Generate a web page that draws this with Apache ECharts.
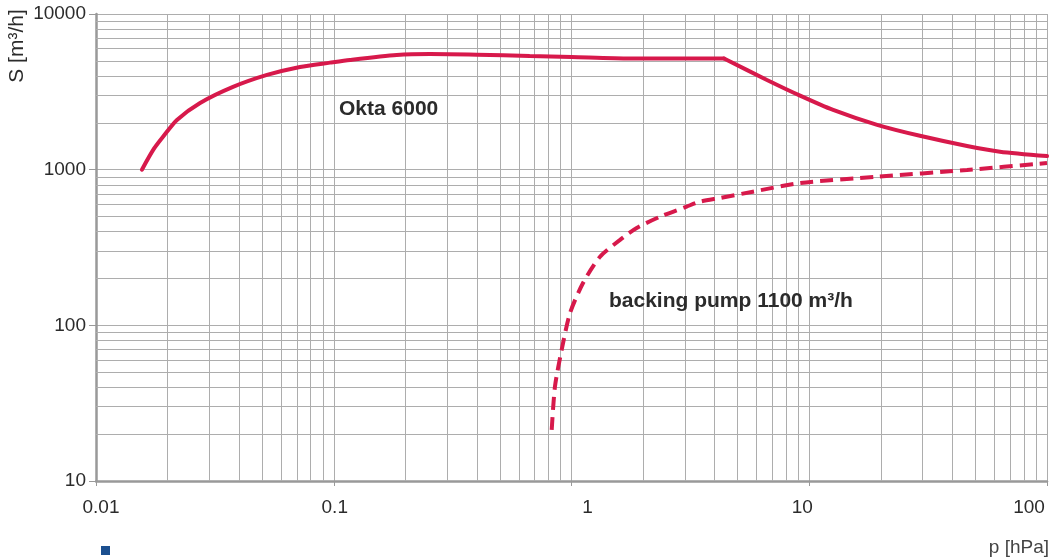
<!DOCTYPE html>
<html>
<head>
<meta charset="utf-8">
<script src="https://cdn.jsdelivr.net/npm/echarts@6/dist/echarts.min.js"></script>
<style>
html,body{margin:0;padding:0;background:#fff;}
#chart{width:1052px;height:560px;}
</style>
</head>
<body>
<div id="chart"></div>
<script>
// ---- data ----
var oktaRise = [
  [0.0156, 1000], [0.0174, 1340], [0.0191, 1620], [0.0219, 2085], [0.0274, 2680],
  [0.0377, 3400], [0.0524, 4060], [0.0721, 4570], [0.0964, 4870], [0.117, 5070],
  [0.184, 5450], [0.254, 5530], [0.40, 5480], [0.667, 5380], [1.0, 5300],
  [1.76, 5180], [4.38, 5180]
];
var oktaFall = [
  [4.38, 5180], [6.64, 3770], [9.15, 2990], [12.6, 2420], [19.3, 1940],
  [29.2, 1650], [46.1, 1420], [63.4, 1305], [100, 1224]
];
var backingPump = [
  [0.8255, 21.3], [0.852, 40.4], [0.909, 69.5], [0.986, 120], [1.118, 187],
  [1.318, 276], [1.60, 354], [1.88, 422], [2.36, 499], [3.05, 579],
  [3.47, 623], [4.21, 658], [5.79, 722], [9.15, 821], [19.3, 901],
  [46.1, 995], [100, 1104]
];
var xTickValues = [0.01, 0.1, 1, 10, 100];
var xTickLabels = ['0.01', '0.1', '1', '10', '100'];
var yTickValues = [10, 100, 1000, 10000];
var yTickLabels = ['10', '100', '1000', '10000'];
var xMinorGrid = [0.02, 0.03, 0.04, 0.05, 0.06, 0.07, 0.08, 0.09,
                  0.2, 0.3, 0.4, 0.5, 0.6, 0.7, 0.8, 0.9,
                  2, 3, 4, 5, 6, 7, 8, 9,
                  20, 30, 40, 50, 60, 70, 80, 90];
var yMinorGrid = [20, 30, 40, 50, 60, 70, 80, 90,
                  200, 300, 400, 500, 600, 700, 800, 900,
                  2000, 3000, 4000, 5000, 6000, 7000, 8000, 9000];
var seriesNames = ['Okta 6000', 'backing pump 1100 m³/h'];
var axisNames = { x: 'p [hPa]', y: 'S [m³/h]' };

// ---- style ----
var RED = '#d7194b';
var GRID = '#adadad';
var AXIS = '#999999';
var TXT = '#2b2b2b';
var FONT = 'Liberation Sans, Arial, sans-serif';
// horizontal nudge of each x label (px) relative to its tick
var xLabelShift = [5, 1, 16, -7, -18];

var rich = {};
xTickLabels.forEach(function (t, i) {
  var s = xLabelShift[i];
  rich['l' + i] = {
    fontSize: 19, fontFamily: FONT, color: TXT,
    padding: s >= 0 ? [0, 0, 0, 2 * s] : [0, -2 * s, 0, 0]
  };
});

var chart = echarts.init(document.getElementById('chart'), null, { renderer: 'canvas' });

var option = {
  animation: false,
  backgroundColor: '#fff',
  grid: { left: 96, right: 5, top: 14, bottom: 79, containLabel: false },
  xAxis: {
    type: 'log', logBase: 10, min: 0.01, max: 100,
    axisLine: { show: true, lineStyle: { color: AXIS, width: 2.5 } },
    axisTick: { show: true, length: 5, lineStyle: { color: AXIS, width: 1 } },
    splitLine: { show: true, lineStyle: { color: GRID, width: 1 } },
    axisLabel: {
      margin: 17, showMinLabel: true, showMaxLabel: true,
      formatter: function (v) {
        for (var i = 0; i < xTickValues.length; i++) {
          if (Math.abs(Math.log10(v) - Math.log10(xTickValues[i])) < 1e-6) {
            return '{l' + i + '|' + xTickLabels[i] + '}';
          }
        }
        return '';
      },
      rich: rich
    }
  },
  yAxis: {
    type: 'log', logBase: 10, min: 10, max: 10000,
    axisLine: { show: true, lineStyle: { color: AXIS, width: 2.5 } },
    axisTick: { show: true, length: 7, lineStyle: { color: AXIS, width: 1 } },
    splitLine: { show: true, lineStyle: { color: GRID, width: 1 } },
    axisLabel: {
      margin: 10, fontSize: 19, fontFamily: FONT, color: TXT,
      showMinLabel: true, showMaxLabel: true,
      formatter: function (v) {
        for (var i = 0; i < yTickValues.length; i++) {
          if (Math.abs(Math.log10(v) - Math.log10(yTickValues[i])) < 1e-6) return yTickLabels[i];
        }
        return '';
      }
    }
  },
  series: [
    {
      name: 'grid', type: 'line', data: [], z: 1, silent: true,
      markLine: {
        silent: true, symbol: ['none', 'none'], animation: false,
        label: { show: false },
        lineStyle: { color: GRID, width: 1, type: 'solid' },
        data: xMinorGrid.map(function (v) { return { xAxis: v }; })
          .concat(yMinorGrid.map(function (v) { return { yAxis: v }; }))
      }
    },
    {
      name: seriesNames[0], type: 'line', data: oktaRise, z: 5,
      showSymbol: false, symbol: 'none', smooth: 0.25,
      lineStyle: { color: RED, width: 4, cap: 'round' }
    },
    {
      name: seriesNames[0], type: 'line', data: oktaFall, z: 5,
      showSymbol: false, symbol: 'none', smooth: 0.25,
      lineStyle: { color: RED, width: 4, cap: 'round' }
    },
    {
      name: seriesNames[1], type: 'line', data: backingPump, z: 5,
      showSymbol: false, symbol: 'none', smooth: 0.25,
      lineStyle: { color: RED, width: 4, type: [13, 7] }
    }
  ],
  graphic: [
    {
      type: 'text', left: 339, top: 99, z: 10,
      style: { text: seriesNames[0], fontSize: 21, fontWeight: 'bold', fontFamily: FONT, fill: TXT }
    },
    {
      type: 'text', left: 609, top: 291, z: 10,
      style: { text: seriesNames[1], fontSize: 21, fontWeight: 'bold', fontFamily: FONT, fill: TXT }
    },
    {
      type: 'text', x: 17, y: 46, rotation: Math.PI / 2, z: 10,
      style: { text: axisNames.y, fontSize: 21, fontFamily: FONT, fill: TXT, align: 'center', verticalAlign: 'middle' }
    },
    {
      type: 'text', right: 3, top: 538, z: 10,
      style: { text: axisNames.x, fontSize: 19, fontFamily: FONT, fill: '#444' }
    },
    {
      type: 'rect', left: 101, top: 546, z: 10,
      shape: { width: 9, height: 9 },
      style: { fill: '#1b4f8f' }
    }
  ]
};
chart.setOption(option);
</script>
</body>
</html>
